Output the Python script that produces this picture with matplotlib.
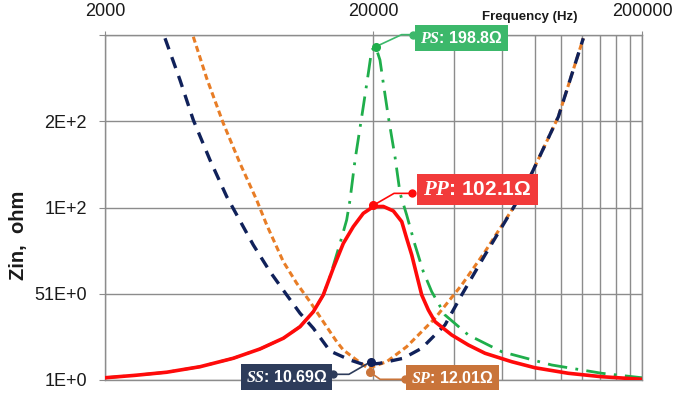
import matplotlib
matplotlib.use("Agg")
import matplotlib.pyplot as plt
from matplotlib.ticker import FixedLocator, NullFormatter

plt.rcParams['font.family'] = ['Liberation Sans', 'DejaVu Sans']
plt.rcParams['mathtext.fontset'] = 'custom'
plt.rcParams['mathtext.it'] = 'Liberation Serif:italic:bold'

#----------------------------- DATA -----------------
pp_f = [2000, 2587, 3394, 4519, 6010, 7558, 9230, 10650, 11940, 13000, 14170, 15440,
        16820, 18320, 19970, 21760, 23710, 25480, 26580, 27760, 28970, 30240, 32010,
        33900, 39110, 45100, 52040, 65420, 79900, 106300, 141600, 200000]
pp_z = [2.3, 3.7, 5.5, 8.7, 13.6, 19.0, 25.2, 31.9, 40.6, 50.3, 65.9, 80.2,
        89.9, 97.6, 101.5, 101.6, 99.0, 92.8, 83.1, 73.5, 61.9, 50.3, 41.6,
        34.8, 27.1, 21.3, 16.5, 11.6, 8.1, 4.9, 2.9, 1.4]

ps_f = [2000, 2587, 3394, 4519, 6010, 7558, 9230, 10650, 11940, 13000, 13770, 15010,
        15890, 16350, 17070, 18320, 19130, 19690, 20380, 21140, 21760, 22710, 24050,
        25120, 26580, 28550, 30660, 32950, 36920, 45100, 60040, 92190, 141600, 200000]
ps_z = [2.3, 3.7, 5.5, 8.7, 13.6, 19.0, 25.2, 31.9, 40.6, 50.3, 60.9, 80.2,
        93.8, 105.3, 128.5, 159.4, 178.8, 192.3, 194.2, 186.5, 173.0, 153.6, 130.4,
        109.2, 96.7, 79.3, 63.8, 52.2, 38.7, 27.1, 17.4, 9.7, 4.9, 2.3]

ss_f = [3346, 3805, 4265, 4922, 5681, 7133, 8234, 9502, 10650, 11940, 13770, 16350,
        18590, 21140, 25830, 30240, 36920, 42610, 52040, 67300, 77660, 97600, 120900]
ss_z = [199.1, 174.9, 151.7, 128.5, 107.3, 79.3, 63.8, 50.3, 39.7, 31.0, 17.8, 12.6,
        9.7, 10.7, 13.6, 19.4, 32.9, 50.3, 73.5, 102.4, 120.8, 153.6, 199.1]

sp_f = [4265, 4784, 5516, 6366, 7345, 8004, 9230, 10350, 11600, 13000, 14590, 15440,
        18320, 19130, 22400, 26580, 33900, 42610, 52040, 67300, 77660, 97600, 120900]
sp_z = [200, 175.9, 149.8, 126.6, 105.3, 90.9, 69.6, 57.1, 46.4, 34.8, 23.2, 18.4,
        9.7, 7.8, 11.6, 20.3, 36.8, 56.1, 75.4, 102.4, 120.8, 153.6, 199.1]

# marked points and their labels
mark_f = {'PS': 20380, 'PP': 19990, 'SS': 19530, 'SP': 19410}
mark_z = {'PS': 194.2, 'PP': 102.3, 'SS': 11.6, 'SP': 5.5}
mark_txt = {'PS': '$PS$: 198.8Ω', 'PP': '$PP$: 102.1Ω',
            'SS': '$SS$: 10.69Ω', 'SP': '$SP$: 12.01Ω'}

x_ticks = [2000, 20000, 200000]
x_ticklabels = ['2000', '20000', '200000']
x_minor = [40000, 60000, 80000, 100000, 120000, 140000, 160000, 180000]
y_ticks = [1, 51, 101, 151, 201]
y_ticklabels = ['1E+0', '51E+0', '1E+2', '2E+2', '']

#----------------------------- STYLE -----------------------------------------
grid_c = '#8c8c8c'
col_line = {'PS': '#1fae4b', 'PP': '#ff0a0a', 'SS': '#10215a', 'SP': '#e87d26'}
col_box = {'PS': '#3cb86b', 'PP': '#f23b3b', 'SS': '#2d3c5b', 'SP': '#c9743a'}
# label box centre, leader dot (axes fraction), box font size, leader elbow angle
lab_pos = {'PS': (0.664, 0.991), 'PP': (0.693, 0.552), 'SS': (0.338, 0.008), 'SP': (0.647, 0.007)}
dot_pos = {'PS': (0.574, 1.001), 'PP': (0.571, 0.541), 'SS': (0.425, 0.0165), 'SP': (0.559, 0.002)}
lab_size = {'PS': 11.5, 'PP': 15, 'SS': 11.5, 'SP': 11.5}
elbow = {'PS': 25, 'PP': 30, 'SS': 30, 'SP': 145}

fig = plt.figure(figsize=(6.75, 3.93), dpi=100)
ax = fig.add_axes([105/675, 13/393, 537/675, 345/393])

ax.set_xscale('log')
ax.set_xlim(2000, 200000)
ax.set_ylim(1, 201)

ax.plot(ps_f, ps_z, color=col_line['PS'], lw=2, linestyle=(0, (7, 3, 1, 3)), zorder=3)
ax.plot(sp_f, sp_z, color=col_line['SP'], lw=2.2, linestyle=(0, (2, 1.2)), zorder=4)
ax.plot(ss_f, ss_z, color=col_line['SS'], lw=2.4, linestyle=(0, (3.5, 2.5)), zorder=5)
ax.plot(pp_f, pp_z, color=col_line['PP'], lw=2.6, zorder=6)

for k in ['PS', 'PP', 'SS', 'SP']:
    c_lead = col_line[k] if k == 'PP' else col_box[k]
    ax.plot([mark_f[k]], [mark_z[k]], 'o', color=col_line[k] if k != 'SP' else col_box[k],
            ms=5.5, zorder=8, clip_on=False)
    ax.annotate('', xy=(mark_f[k], mark_z[k]), xycoords='data',
                xytext=dot_pos[k], textcoords='axes fraction',
                arrowprops=dict(arrowstyle='-', color=c_lead, lw=1.2, shrinkA=0, shrinkB=0,
                                connectionstyle='angle,angleA=0,angleB=%d,rad=0' % elbow[k]),
                zorder=7, annotation_clip=False)
    ax.plot([dot_pos[k][0]], [dot_pos[k][1]], 'o', color=c_lead,
            ms=5, transform=ax.transAxes, zorder=8, clip_on=False)
    ax.text(lab_pos[k][0], lab_pos[k][1], mark_txt[k], transform=ax.transAxes,
            ha='center', va='center', fontsize=lab_size[k], fontweight='bold',
            color='white', zorder=9,
            bbox=dict(boxstyle='square,pad=0.3', fc=col_box[k], ec='none'))

# axes / grid
ax.xaxis.tick_top()
ax.set_xticks(x_ticks)
ax.set_xticklabels(x_ticklabels)
ax.xaxis.set_minor_locator(FixedLocator(x_minor))
ax.xaxis.set_minor_formatter(NullFormatter())
ax.set_yticks(y_ticks)
ax.set_yticklabels(y_ticklabels)
ax.tick_params(axis='x', which='major', direction='out', length=3, pad=8,
               labelsize=13, color=grid_c, labelcolor='#1a1a1a')
ax.tick_params(axis='x', which='minor', length=0)
ax.tick_params(axis='y', direction='out', length=4, pad=9, labelsize=13,
               color=grid_c, labelcolor='#1a1a1a')
ax.grid(True, which='both', axis='x', color=grid_c, lw=1)
ax.grid(True, which='major', axis='y', color=grid_c, lw=1)
ax.set_axisbelow(True)
for s in ax.spines.values():
    s.set_color(grid_c)
    s.set_linewidth(1)

fig.text(19/675, 1 - 235/393, 'Zin,  ohm', rotation=90, ha='center', va='center',
         fontsize=14.5, fontweight='bold', color='#1a1a1a')
fig.text(530/675, 1 - 17/393, 'Frequency (Hz)', ha='center', va='center',
         fontsize=9.5, fontweight='bold', color='#1a1a1a')

fig.savefig('out.png', dpi=100)
